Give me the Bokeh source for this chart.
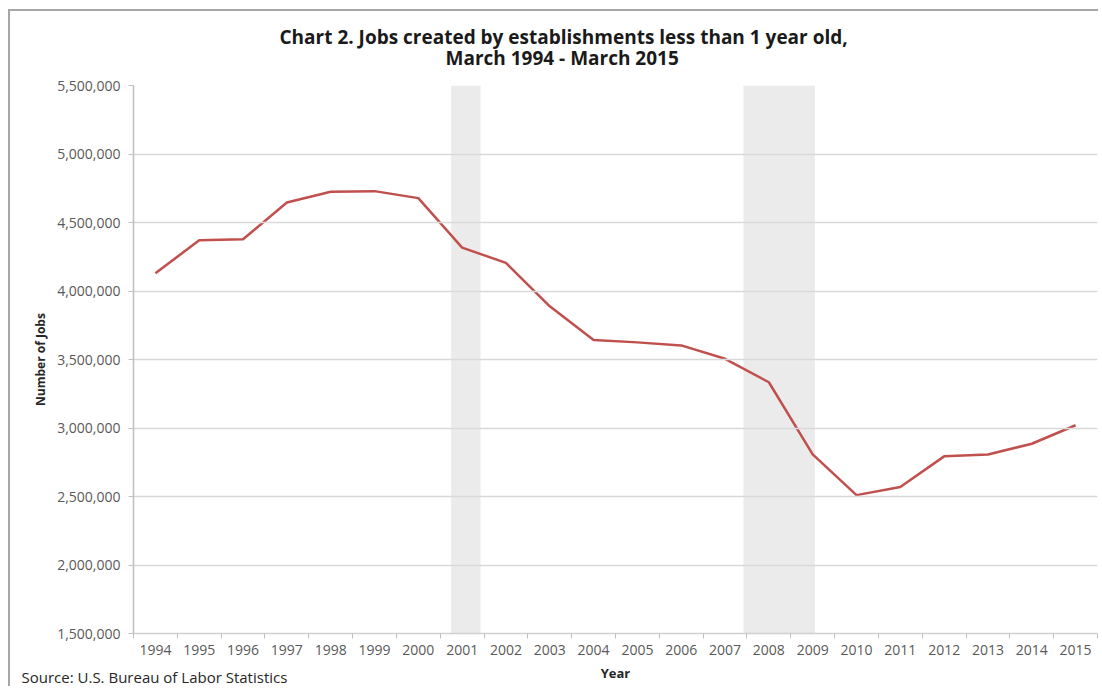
from bokeh.plotting import figure
from bokeh.models import FixedTicker, NumeralTickFormatter, Range1d, Title
from bokeh.embed import file_html
from bokeh.resources import INLINE

# ---- data ----
years = list(range(1994, 2016))
jobs = [4130000, 4370000, 4378000, 4646000, 4724000, 4729000, 4678000,
        4317000, 4205000, 3888000, 3643000, 3625000, 3603000, 3505000,
        3334000, 2807000, 2510000, 2569000, 2793000, 2807000, 2885000,
        3020000]
recession_start = [2000.75, 2007.42]   # Mar 2001, Dec 2007
recession_end = [2001.42, 2009.05]     # Nov 2001, Jun 2009
y_min, y_max, y_step = 1500000, 5500000, 500000
title_lines = ["Chart 2. Jobs created by establishments less than 1 year old,",
               "March 1994 - March 2015"]
source_text = "Source: U.S. Bureau of Labor Statistics"

FONT = "Open Sans"
TICK_COLOR = "#595959"

p = figure(width=1090, height=677, output_backend="svg", toolbar_location=None,
           x_range=Range1d(years[0] - 0.5, years[-1] + 0.5),
           y_range=Range1d(y_min, y_max))
p.styles = {"margin-left": "8px", "margin-top": "9px",
            "border-left": "2px solid #a6a6a6", "border-top": "2px solid #a6a6a6"}
p.min_border_left = 123
p.min_border_right = 3
p.min_border_top = 74
p.min_border_bottom = 55
p.outline_line_color = None
p.background_fill_color = "white"
p.border_fill_color = "white"

# recession shading
q = p.quad(left=recession_start, right=recession_end,
           bottom=[y_min] * len(recession_start), top=[y_max] * len(recession_start),
           fill_color="#ebebeb", line_color=None)
q.level = "underlay"

# grid
p.xgrid.grid_line_color = None
p.ygrid.grid_line_color = "#d9d9d9"
p.ygrid.grid_line_width = 1.5
p.ygrid.level = "glyph"

p.line(years, jobs, line_color="#c0504d", line_width=2.5)

# x axis
xa = p.xaxis[0]
xa.ticker = FixedTicker(ticks=years, minor_ticks=[y - 0.5 for y in years] + [years[-1] + 0.5])
xa.major_tick_line_color = None
xa.major_tick_out = 5
xa.minor_tick_out = 5
xa.minor_tick_in = 0
xa.minor_tick_line_color = "#bfbfbf"
xa.axis_line_color = "#d0d0d0"
xa.axis_line_width = 1.5
xa.major_label_text_font = FONT
xa.major_label_text_font_size = "14px"
xa.major_label_text_color = TICK_COLOR
xa.major_label_standoff = 6
xa.axis_label = "Year"
xa.axis_label_text_font = FONT
xa.axis_label_text_font_size = "13px"
xa.axis_label_text_font_style = "bold"
xa.axis_label_text_color = "#262626"
xa.axis_label_standoff = 6

# y axis
ya = p.yaxis[0]
ya.ticker = FixedTicker(ticks=list(range(y_min, y_max + 1, y_step)))
ya.formatter = NumeralTickFormatter(format="0,0")
ya.major_tick_out = 5
ya.major_tick_in = 0
ya.major_tick_line_color = "#bfbfbf"
ya.minor_tick_line_color = None
ya.axis_line_color = "#bfbfbf"
ya.axis_line_width = 1.5
ya.major_label_text_font = FONT
ya.major_label_text_font_size = "14px"
ya.major_label_text_color = TICK_COLOR
ya.major_label_standoff = 8
ya.axis_label = "Number of Jobs"
ya.axis_label_text_font = FONT
ya.axis_label_text_font_size = "12px"
ya.axis_label_text_font_style = "bold"
ya.axis_label_text_color = "#262626"
ya.axis_label_standoff = 5

# title: two stacked Title panels (second line added first = nearest the frame)
p.add_layout(Title(text=title_lines[1], align="left", offset=312, standoff=30,
                   text_font=FONT, text_font_size="19px", text_font_style="bold",
                   text_color="#1a1a1a"), "above")
p.add_layout(Title(text=title_lines[0], align="left", offset=146, standoff=-44,
                   text_font=FONT, text_font_size="19px", text_font_style="bold",
                   text_color="#1a1a1a"), "above")

# source note, pulled up beside the axis label
p.add_layout(Title(text=source_text, align="left", offset=-112, standoff=-35,
                   vertical_align="top",
                   text_font=FONT, text_font_size="15px", text_font_style="normal",
                   text_color="#262626"), "below")

open("out.html", "w").write(file_html(p, INLINE))
